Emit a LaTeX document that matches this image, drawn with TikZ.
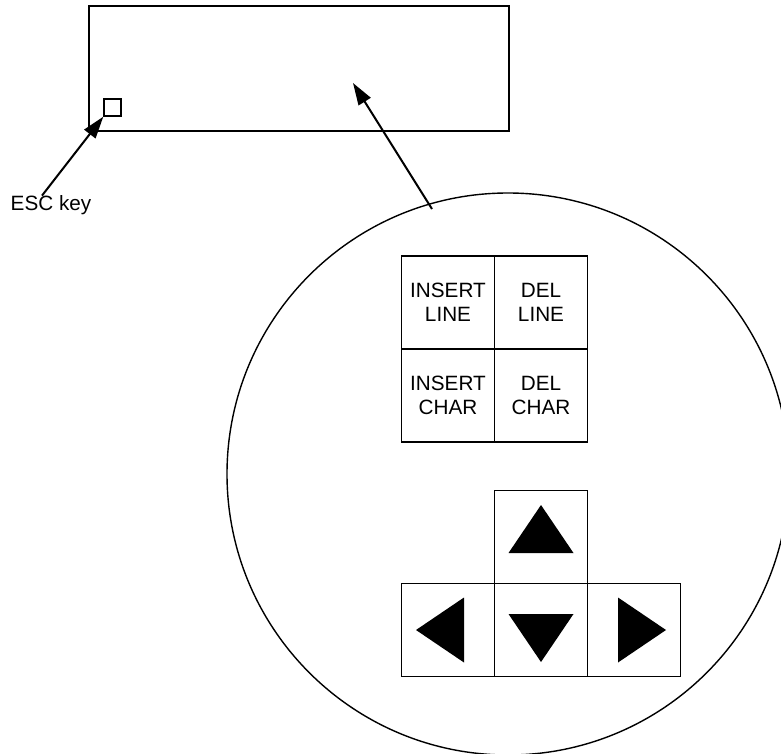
\documentclass[tikz,border=0pt]{standalone}
\usepackage{fontspec}
\setmainfont{Liberation Sans}
\usetikzlibrary{calc,positioning,arrows.meta}
\tikzset{
	key/.style={draw, line width=0.7pt, minimum size=46.5pt, inner sep=0pt, outer sep=0pt, align=center, font=\fontsize{10.35}{12}\selectfont},
	pointer/.style={line width=1pt, -{Triangle[length=11pt,width=7pt]}}
}

\begin{document}
\begin{tikzpicture}[x=0.5pt, y=-0.5pt]
		%%%%% START %%%%%
		\useasboundingbox (0,0) rectangle (781,754);
		
		\draw[line width=0.7pt] (89,6) rectangle (509,131);
		\node[draw, line width=0.7pt, minimum size=8.5pt, inner sep=0pt] (esc) at (112.5,107.5) {};
		\coordinate (screen) at (353,83);
		
		\node[anchor=base, inner sep=0pt, font=\fontsize{10.35}{12}\selectfont] (esclbl) at (51,211) {ESC key};
		\draw[pointer] ([xshift=-4.5pt]esclbl.north) -- (esc.south west);
		
		\node[circle, draw, line width=0.7pt, minimum size=281pt, inner sep=0pt] (lens) at (508,474) {};
		\coordinate (tail) at (432,209);
		\draw[pointer] (tail) -- (screen);
		
		\node[key] (insline) at (448,302.5) {INSERT\\LINE};
		\node[key, right=0pt of insline] (delline) {DEL\\LINE};
		\node[key, below=0pt of insline] (inschar) {INSERT\\CHAR};
		\node[key, right=0pt of inschar] (delchar) {DEL\\CHAR};
		
		\node[key] (up) at (541,537) {};
		\node[key, below=0pt of up] (down) {};
		\node[key, left=0pt of down] (left) {};
		\node[key, right=0pt of down] (right) {};
		
		\foreach \k/\a in {up/0, down/180, left/90, right/-90}
			\fill[shift={(\k)}, rotate=\a] (0,-32) -- (-32.5,16) -- (32.5,16) -- cycle;
		
		%%%%% END %%%%%
	\end{tikzpicture}
\end{document}
